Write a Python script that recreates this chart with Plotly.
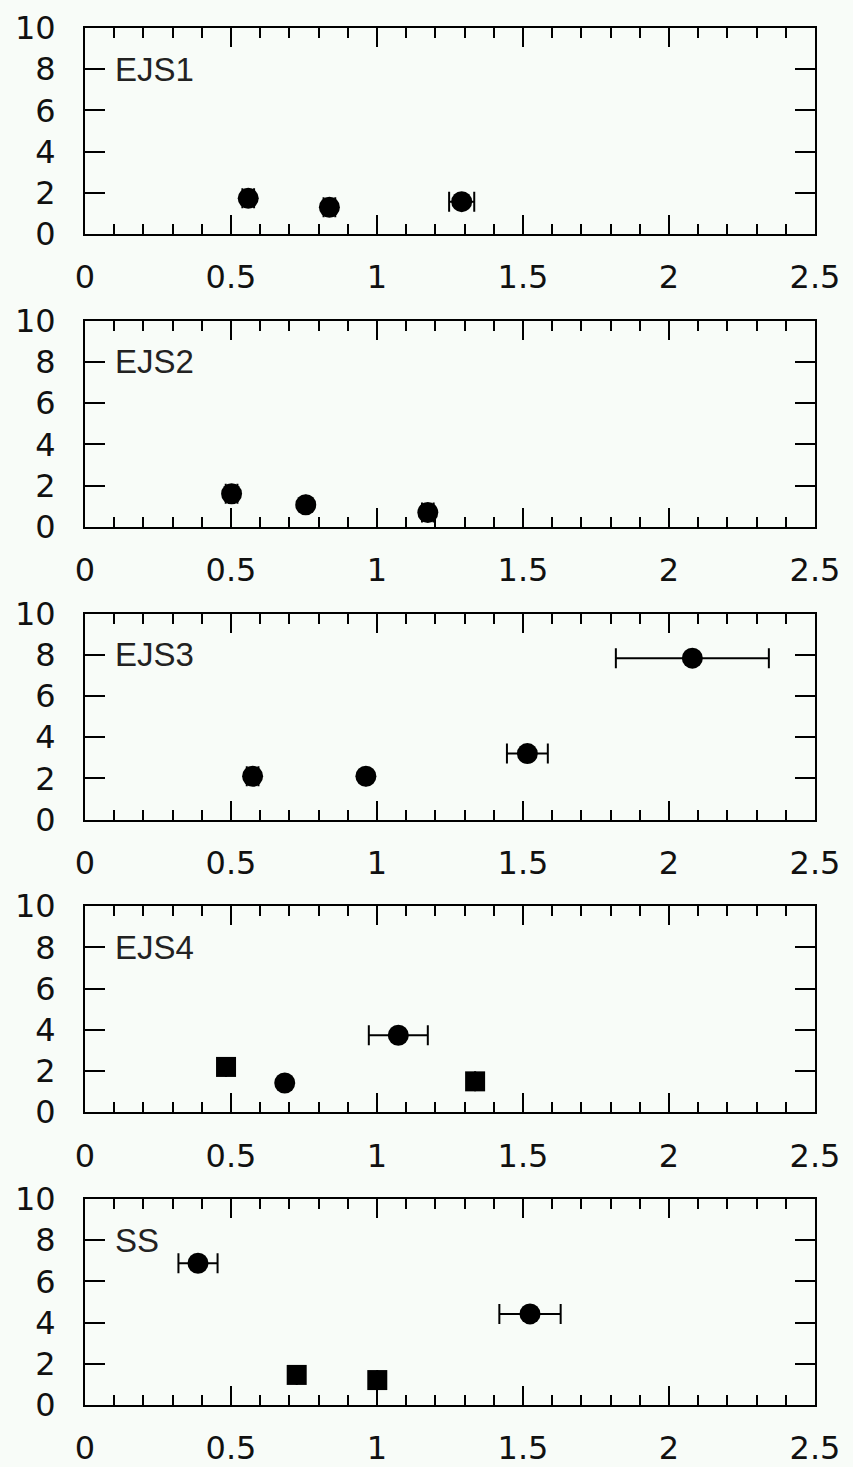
import plotly.graph_objects as go

# Sample panels, top to bottom
panel_names = ["EJS1", "EJS2", "EJS3", "EJS4", "SS"]

# Point groups: "a" = round symbol, "b" = square symbol
x_ejs1 = [0.559, 0.837, 1.290]
y_ejs1 = [1.73, 1.30, 1.57]
xerr_ejs1 = [0.020, 0.020, 0.043]
group_ejs1 = ["a", "a", "a"]

x_ejs2 = [0.502, 0.756, 1.174]
y_ejs2 = [1.60, 1.07, 0.69]
xerr_ejs2 = [0.020, 0.0, 0.020]
group_ejs2 = ["a", "a", "a"]

x_ejs3 = [0.574, 0.962, 1.515, 2.080]
y_ejs3 = [2.10, 2.10, 3.20, 7.83]
xerr_ejs3 = [0.020, 0.0, 0.070, 0.262]
group_ejs3 = ["a", "a", "a", "a"]

x_ejs4 = [0.483, 0.684, 1.073, 1.336]
y_ejs4 = [2.20, 1.42, 3.74, 1.50]
xerr_ejs4 = [0.0, 0.0, 0.101, 0.0]
group_ejs4 = ["b", "a", "a", "b"]

x_ss = [0.387, 1.524, 0.725, 1.001]
y_ss = [6.88, 4.42, 1.46, 1.21]
xerr_ss = [0.067, 0.105, 0.0, 0.0]
group_ss = ["a", "a", "b", "b"]

x_ticks = [0, 0.5, 1, 1.5, 2, 2.5]
x_tick_text = ["0", "0.5", "1", "1.5", "2", "2.5"]
y_ticks = [0, 2, 4, 6, 8, 10]
y_tick_text = ["0", "2", "4", "6", "8", "10"]

panels = [
    (x_ejs1, y_ejs1, xerr_ejs1, group_ejs1),
    (x_ejs2, y_ejs2, xerr_ejs2, group_ejs2),
    (x_ejs3, y_ejs3, xerr_ejs3, group_ejs3),
    (x_ejs4, y_ejs4, xerr_ejs4, group_ejs4),
    (x_ss, y_ss, xerr_ss, group_ss),
]

group_style = {"a": ("circle", 21), "b": ("square", 20)}

W, H = 853, 1467
BG = "#f8fcf8"
left_px, right_px = 85, 815
panel_top0, panel_step, panel_h = 28, 292.75, 206

tick_font = dict(family="DejaVu Sans", size=32, color="#111111")

fig = go.Figure()
layout = dict(
    width=W, height=H,
    margin=dict(l=0, r=0, t=0, b=0, autoexpand=False),
    paper_bgcolor=BG, plot_bgcolor=BG,
    showlegend=False,
    annotations=[],
)

for i, (xs, ys, xe, grp) in enumerate(panels):
    n = i + 1
    xa = "x" if n == 1 else f"x{n}"
    ya = "y" if n == 1 else f"y{n}"
    fig.add_trace(go.Scatter(
        x=xs, y=ys, mode="markers",
        xaxis=xa, yaxis=ya,
        marker=dict(symbol=[group_style[g][0] for g in grp],
                    size=[group_style[g][1] for g in grp],
                    color="black", opacity=1, line=dict(width=0)),
        error_x=dict(type="data", array=xe, visible=True,
                     color="black", thickness=2, width=10),
        cliponaxis=False,
    ))

    top = panel_top0 + i * panel_step
    bottom = top + panel_h
    ydom = [1 - bottom / H, 1 - top / H]
    xdom = [left_px / W, right_px / W]

    layout["xaxis" if n == 1 else f"xaxis{n}"] = dict(
        domain=xdom, anchor=ya, range=[0, 2.5], automargin=False,
        showline=True, linecolor="black", linewidth=2, mirror="ticks",
        ticks="inside", ticklen=19, tickwidth=2, tickcolor="black",
        tickvals=x_ticks, ticktext=x_tick_text, tickfont=tick_font,
        ticklabelstandoff=14,
        minor=dict(dtick=0.1, tick0=0, ticks="inside", ticklen=10,
                   tickwidth=2, tickcolor="black", showgrid=False),
        showgrid=False, zeroline=False, fixedrange=True,
    )
    layout["yaxis" if n == 1 else f"yaxis{n}"] = dict(
        domain=ydom, anchor=xa, range=[0, 10], automargin=False,
        showline=True, linecolor="black", linewidth=2, mirror="ticks",
        ticks="inside", ticklen=20, tickwidth=2, tickcolor="black",
        tickvals=y_ticks, ticktext=y_tick_text, tickfont=tick_font,
        ticklabelstandoff=21,
        showgrid=False, zeroline=False, fixedrange=True,
    )
    layout["annotations"].append(dict(
        x=0.095, y=8, xref=xa, yref=ya, text=panel_names[i],
        showarrow=False, xanchor="left", yanchor="middle",
        font=dict(family="Liberation Sans", size=33, color="#222222"),
    ))

fig.update_layout(**layout)
fig.write_html("out.html")
